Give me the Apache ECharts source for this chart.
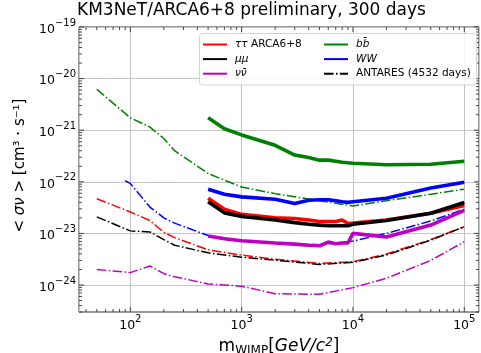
<!DOCTYPE html>
<html><head><meta charset="utf-8">
<script src="https://cdn.jsdelivr.net/npm/echarts@6/dist/echarts.min.js"></script>
<style>html,body{margin:0;padding:0;background:#fff}#c{width:481px;height:353px}</style>
</head><body><div id="c"></div>
<script>
// ---- data (WIMP mass in GeV/c^2, <sigma v> in cm^3 s^-1) ----
const antaresMass   = [50, 100, 150, 200, 250, 500, 1000, 2000, 5000, 10000, 20000, 50000, 100000];
const antaresMassWW = [90, 100, 150, 200, 250, 500, 1000, 2000, 5000, 10000, 20000, 50000, 100000];
const antaresTT = [4.7e-23, 2.6e-23, 1.78e-23, 1.05e-23, 8.3e-24, 4.8e-24, 3.8e-24, 3.16e-24, 2.63e-24, 2.82e-24, 3.98e-24, 7.6e-24, 1.35e-23];
const antaresMM = [2.09e-23, 1.12e-23, 1.07e-23, 7.6e-24, 5.9e-24, 4.2e-24, 3.47e-24, 3.02e-24, 2.51e-24, 2.75e-24, 3.8e-24, 7.4e-24, 1.35e-23];
const antaresNN = [2.0e-24, 1.74e-24, 2.34e-24, 1.66e-24, 1.45e-24, 1.05e-24, 9.5e-25, 6.8e-25, 6.6e-25, 8.9e-25, 1.35e-24, 3.0e-24, 6.9e-24];
const antaresBB = [6.2e-21, 1.74e-21, 1.15e-21, 6.9e-22, 4.0e-22, 1.45e-22, 7.9e-23, 5.9e-23, 4.3e-23, 3.4e-23, 4.3e-23, 5.75e-23, 7.2e-23];
const antaresWW = [1.05e-22, 9.3e-23, 3.24e-23, 2.0e-23, 1.58e-23, 9.1e-24, 7.2e-24, 6.6e-24, 6.0e-24, 7.1e-24, 1.0e-23, 1.74e-23, 2.95e-23];

const km3Mass = [500, 700, 1000, 2000, 3000, 4000, 5000, 6000, 7000, 8000, 9000, 10000, 20000, 50000, 100000];
const km3TT = [4.8e-23, 2.95e-23, 2.34e-23, 2.0e-23, 1.95e-23, 1.82e-23, 1.7e-23, 1.7e-23, 1.7e-23, 1.82e-23, 1.55e-23, 1.58e-23, 1.82e-23, 2.45e-23, 3.47e-23];
const km3MM = [4.1e-23, 2.5e-23, 2.14e-23, 1.82e-23, 1.62e-23, 1.51e-23, 1.45e-23, 1.41e-23, 1.41e-23, 1.41e-23, 1.41e-23, 1.51e-23, 1.78e-23, 2.45e-23, 3.98e-23];
const km3NN = [8.9e-24, 7.9e-24, 7.2e-24, 6.5e-24, 6.2e-24, 5.9e-24, 5.75e-24, 6.8e-24, 6.3e-24, 6.5e-24, 6.5e-24, 1.0e-23, 8.5e-24, 1.45e-23, 2.8e-23];
const km3BB = [1.74e-21, 1.07e-21, 8.1e-22, 5.1e-22, 3.3e-22, 2.95e-22, 2.63e-22, 2.63e-22, 2.51e-22, 2.4e-22, 2.34e-22, 2.29e-22, 2.14e-22, 2.19e-22, 2.51e-22];
const km3WW = [7.2e-23, 5.75e-23, 5.1e-23, 4.6e-23, 3.8e-23, 4.4e-23, 4.5e-23, 4.5e-23, 4.3e-23, 4.1e-23, 4.0e-23, 4.1e-23, 4.8e-23, 7.6e-23, 9.8e-23];

const xMajorExps = [2, 3, 4, 5];
const yMajorExps = [-24, -23, -22, -21, -20, -19];
const legendLeft  = ['ττ ARCA6+8', 'μμ', 'νν̄'];
const legendRight = ['bb̄', 'WW', 'ANTARES (4532 days)'];
const titleText = 'KM3NeT/ARCA6+8 preliminary, 300 days';

// ---- layout/style ----
const X_MIN = 34.6, X_MAX = 1.356e5, Y_MIN = 3.0e-25, Y_MAX = 1e-19;
const FONT = 'DejaVu Sans';
const C = {tt: '#ff0000', mm: '#000000', nn: '#bf00bf', bb: '#008000', ww: '#0000ff'};
const DASHDOT = [9.6, 2.4, 1.5, 2.4];

const pairs = (xs, ys) => xs.map((x, i) => [x, ys[i]]);

const xMinor = [], yMinor = [];
for (let e = 1; e <= 5; e++) for (let k = 2; k <= 9; k++) { const v = k * Math.pow(10, e); if (v > X_MIN && v < X_MAX) xMinor.push([v, Y_MIN]); }
for (let e = -25; e <= -20; e++) for (let k = 2; k <= 9; k++) { const v = k * Math.pow(10, e); if (v > Y_MIN && v < Y_MAX) yMinor.push([X_MIN, v]); }
const xMajor = xMajorExps.map(e => [Math.pow(10, e), Y_MIN]);
const yMajor = yMajorExps.map(e => [X_MIN, Math.pow(10, e)]);

function xTicks(len) {
  return function (params, api) {
    const v = api.value(0);
    const b = api.coord([v, Y_MIN]), t = api.coord([v, Y_MAX]);
    const st = {stroke: '#333', lineWidth: 0.9};
    return {type: 'group', children: [
      {type: 'line', shape: {x1: b[0], y1: b[1], x2: b[0], y2: b[1] - len}, style: st},
      {type: 'line', shape: {x1: t[0], y1: t[1], x2: t[0], y2: t[1] + len}, style: st}
    ]};
  };
}
function yTicks(len) {
  return function (params, api) {
    const v = api.value(1);
    const l = api.coord([X_MIN, v]), r = api.coord([X_MAX, v]);
    const st = {stroke: '#333', lineWidth: 0.9};
    return {type: 'group', children: [
      {type: 'line', shape: {x1: l[0], y1: l[1], x2: l[0] + len, y2: l[1]}, style: st},
      {type: 'line', shape: {x1: r[0], y1: r[1], x2: r[0] - len, y2: r[1]}, style: st}
    ]};
  };
}

function powLabel(v) {
  const e = Math.log10(v);
  const r = Math.round(e);
  if (Math.abs(e - r) > 0.01) return '';
  return '{b|10}{s|' + (r < 0 ? '\u2212' + (-r) : r) + '}';
}
const powRich = {
  b: {fontFamily: FONT, fontSize: 12.5, color: '#000', lineHeight: 18, verticalAlign: 'bottom'},
  s: {fontFamily: FONT, fontSize: 10, color: '#000', verticalAlign: 'top'}
};

const legendRichMap = {
  'ττ ARCA6+8': '{i|ττ} ARCA6+8',
  'μμ': '{i|μμ}',
  'νν̄': '{i|νν̄}',
  'bb̄': '{i|bb̄}',
  'WW': '{i|WW}',
  'ANTARES (4532 days)': 'ANTARES (4532 days)'
};
const legendText = {fontFamily: FONT, fontSize: 10.5, color: '#000', padding: [0, 0, 0, 3],
  rich: {i: {fontFamily: FONT, fontSize: 10.5, fontStyle: 'italic', color: '#000'}}};

function km3(name, data, color) {
  return {type: 'line', name, data: pairs(km3Mass, data), showSymbol: false, symbol: 'none',
    lineStyle: {color, width: 3.6}, itemStyle: {color}, z: 3, silent: true};
}
function ant(name, xs, data, color) {
  return {type: 'line', name, data: pairs(xs, data), showSymbol: false, symbol: 'none',
    lineStyle: {color, width: 1.5, type: DASHDOT}, itemStyle: {color}, z: 2, silent: true};
}
const legendBase = {orient: 'vertical', padding: 0, itemWidth: 24, itemHeight: 12, itemGap: 3.6,
  formatter: n => legendRichMap[n], textStyle: legendText, z: 20, selectedMode: false,
  itemStyle: {opacity: 0, borderWidth: 0}};

const option = {
  animation: false,
  backgroundColor: '#fff',
  title: {text: titleText, left: 77, top: 2, padding: 0,
    textStyle: {fontFamily: FONT, fontSize: 17, fontWeight: 'normal', color: '#000'}},
  grid: {left: 79, right: 2, top: 27, bottom: 41, outerBoundsMode: 'none', containLabel: false,
    show: true, borderColor: '#333', borderWidth: 1, backgroundColor: 'transparent'},
  xAxis: {type: 'log', logBase: 10, min: X_MIN, max: X_MAX,
    axisLine: {show: false}, axisTick: {show: false},
    splitLine: {show: true, lineStyle: {color: '#c4c4c4', width: 1}},
    axisLabel: {formatter: powLabel, rich: powRich, margin: 2, showMinLabel: false, showMaxLabel: false},
    name: '{t|m}{sub|WIMP}{t|[}{i|GeV/c}{sup|2}{t|]}', nameLocation: 'middle', nameGap: 18,
    nameTextStyle: {rich: {
      t: {fontFamily: FONT, fontSize: 17, color: '#000', lineHeight: 20, verticalAlign: 'middle'},
      i: {fontFamily: FONT, fontSize: 17, fontStyle: 'italic', color: '#000', lineHeight: 20, verticalAlign: 'middle'},
      sub: {fontFamily: FONT, fontSize: 12, color: '#000', verticalAlign: 'bottom'},
      sup: {fontFamily: FONT, fontSize: 12, fontStyle: 'italic', color: '#000', verticalAlign: 'top'}
    }}},
  yAxis: {type: 'log', logBase: 10, min: Y_MIN, max: Y_MAX,
    axisLine: {show: false}, axisTick: {show: false},
    splitLine: {show: true, lineStyle: {color: '#c4c4c4', width: 1}},
    axisLabel: {formatter: powLabel, rich: powRich, margin: 3, showMinLabel: false},
    name: '< {i|σν} > [cm³ · s⁻¹]', nameLocation: 'middle', nameRotate: 90, nameGap: 45,
    nameTextStyle: {fontFamily: FONT, fontSize: 15, color: '#000', padding: [0, 0, 0, 8],
      rich: {i: {fontFamily: FONT, fontSize: 15, fontStyle: 'italic', color: '#000'}}}},
  graphic: [{type: 'rect', shape: {x: 199.5, y: 33.5, width: 277, height: 51.5, r: 3},
    style: {fill: 'rgba(255,255,255,0.85)', stroke: '#d4d4d4', lineWidth: 1}, z: 10}],
  legend: [
    Object.assign({data: legendLeft, left: 202, top: 39}, legendBase),
    Object.assign({data: legendRight, left: 323, top: 39}, legendBase)
  ],
  series: [
    ant('A ττ', antaresMass, antaresTT, C.tt),
    ant('A μμ', antaresMass, antaresMM, C.mm),
    ant('A νν', antaresMass, antaresNN, C.nn),
    ant('A bb', antaresMass, antaresBB, C.bb),
    ant('A WW', antaresMassWW, antaresWW, C.ww),
    km3('ττ ARCA6+8', km3TT, C.tt),
    km3('μμ', km3MM, C.mm),
    km3('νν̄', km3NN, C.nn),
    km3('bb̄', km3BB, C.bb),
    km3('WW', km3WW, C.ww),
    {type: 'line', name: 'ANTARES (4532 days)', data: [], symbol: 'none',
     lineStyle: {color: '#000', width: 1.5, type: DASHDOT}, itemStyle: {color: '#000'}},
    {type: 'custom', name: 'xminor', data: xMinor, renderItem: xTicks(3), silent: true, z: 5},
    {type: 'custom', name: 'xmajor', data: xMajor, renderItem: xTicks(5), silent: true, z: 5},
    {type: 'custom', name: 'yminor', data: yMinor, renderItem: yTicks(3), silent: true, z: 5},
    {type: 'custom', name: 'ymajor', data: yMajor, renderItem: yTicks(5), silent: true, z: 5}
  ]
};
echarts.init(document.getElementById('c'), null, {renderer: 'canvas'}).setOption(option);
</script></body></html>
